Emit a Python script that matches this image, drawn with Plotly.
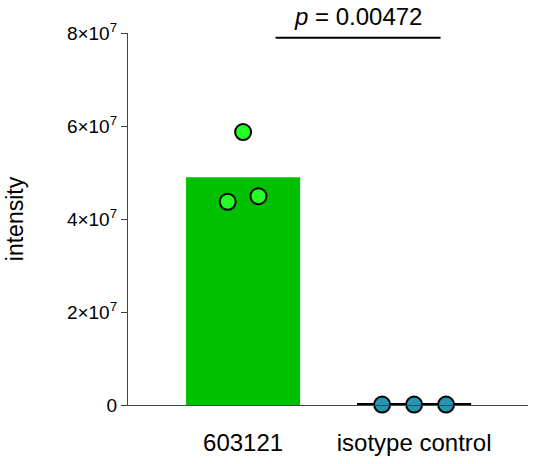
import plotly.graph_objects as go

categories = ["603121", "isotype control"]
bar_means = [4.90e7, 3.0e5]
points_603121 = [4.37e7, 5.87e7, 4.49e7]
points_iso = [1.0e5, 1.0e5, 1.0e5]
offsets_603121 = [-0.09, 0.0, 0.09]
offsets_iso = [-0.187, 0.0, 0.187]
ytick_vals = [0, 2e7, 4e7, 6e7, 8e7]
ytick_text = ["0", "2×10<sup>7</sup>", "4×10<sup>7</sup>", "6×10<sup>7</sup>", "8×10<sup>7</sup>"]
p_text = "<i>p</i> = 0.00472"

FONT = "Liberation Sans, Arial, sans-serif"

fig = go.Figure()
fig.add_trace(go.Bar(
    x=[0, 1], y=bar_means, width=0.667,
    marker=dict(color=["#00c000", "#000000"], line=dict(width=0)),
    showlegend=False, hoverinfo="skip"))
fig.add_trace(go.Scatter(
    x=[0 + o for o in offsets_603121], y=points_603121, mode="markers",
    marker=dict(size=16, color="#22ff22", line=dict(color="#000000", width=2)),
    showlegend=False))
fig.add_trace(go.Scatter(
    x=[1 + o for o in offsets_iso], y=points_iso, mode="markers",
    marker=dict(size=16, color="#1a9bb3", line=dict(color="#000000", width=2)),
    showlegend=False, cliponaxis=False))

# significance bracket
fig.add_shape(type="line", x0=0.19, x1=1.155, y0=7.9e7, y1=7.9e7,
              xref="x", yref="y", line=dict(color="#000000", width=2))
fig.add_annotation(x=0.672, y=7.9e7, xref="x", yref="y", text=p_text,
                   showarrow=False, yshift=21, font=dict(family=FONT, size=24, color="#000000"))

fig.update_layout(
    width=536, height=464,
    margin=dict(l=128, r=8, t=33, b=59),
    plot_bgcolor="white", paper_bgcolor="white",
    font=dict(family=FONT, color="#000000"),
    xaxis=dict(range=[-0.673, 1.666], tickvals=[0, 1], ticktext=categories,
               showline=True, linecolor="#444444", linewidth=1.2, ticks="",
               showgrid=False, zeroline=False, tickfont=dict(size=24, color="#000000"),
               ticklabelstandoff=16),
    yaxis=dict(range=[0, 8e7], tickvals=ytick_vals, ticktext=ytick_text,
               showline=True, linecolor="#444444", linewidth=1.2, ticks="outside",
               ticklen=6, tickcolor="#444444", showgrid=False, zeroline=False,
               tickfont=dict(size=19, color="#000000"),
               title=dict(text="intensity", font=dict(size=23, color="#000000"), standoff=36)),
)
fig.write_html("out.html")
